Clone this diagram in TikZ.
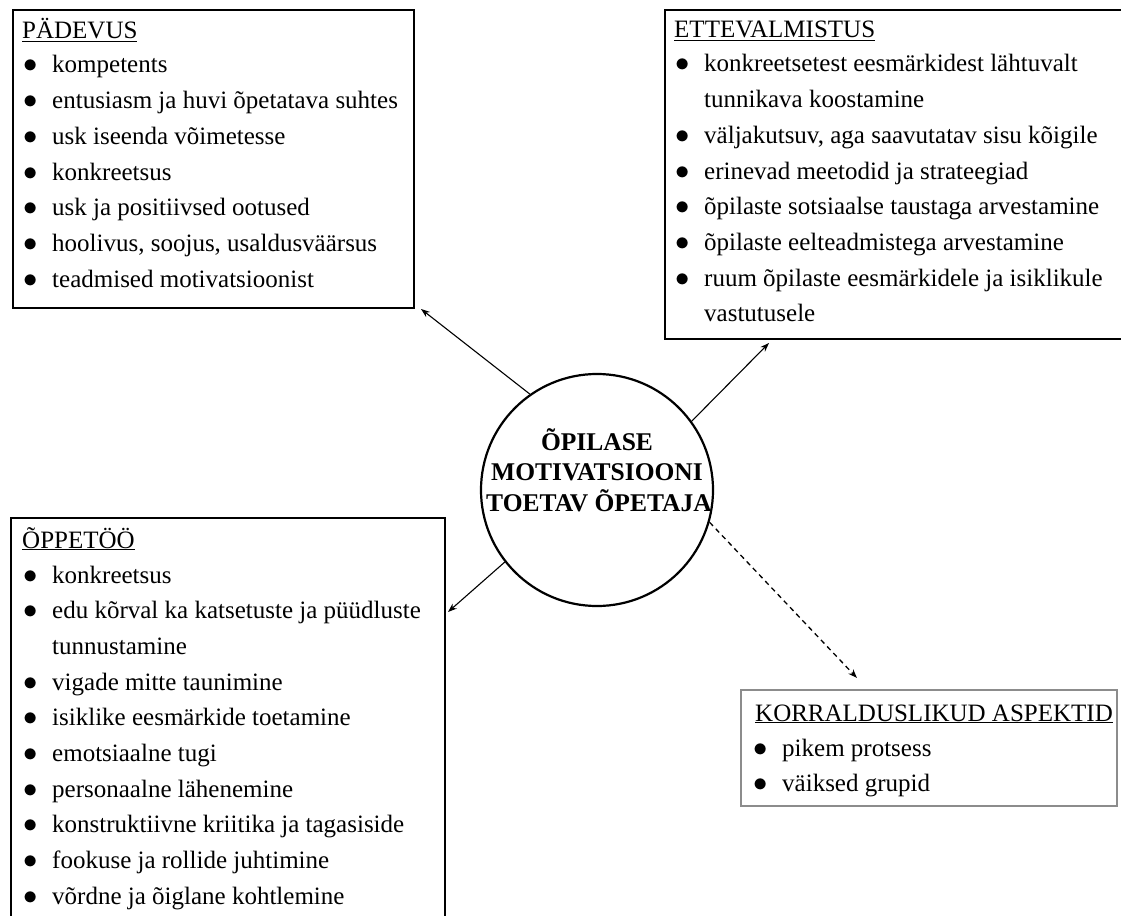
\documentclass[tikz,border=0pt]{standalone}
\usepackage{fontspec}
\setmainfont{Liberation Serif}
\usetikzlibrary{arrows.meta}
\tikzset{
  box/.style={draw=black, line width=2.4pt, rectangle, inner sep=0pt, anchor=north west},
  lbox/.style={draw=black!45, line width=1.5pt, rectangle, inner sep=0pt, anchor=north west},
  txt/.style={anchor=base west, inner sep=0pt, font=\fontsize{25}{30}\selectfont},
  ctxt/.style={anchor=base, inner sep=0pt, font=\fontsize{25.5}{30}\selectfont\bfseries},
  arr/.style={-{Stealth[length=9pt,width=6.5pt]}, line width=1.1pt},
  darr/.style={arr, dash pattern=on 5pt off 4pt, line width=1.3pt},
}
\newcommand{\bul}{\llap{\makebox[12.5pt]{\scalebox{1.15}{$\bullet$}}\hspace{15.75pt}}}
\begin{document}
\begin{tikzpicture}[x=1pt,y=-1pt]
\useasboundingbox (0,0) rectangle (1121,915);
\fill[white] (0,0) rectangle (1121,915);

% boxes
\node[box, minimum width=401pt, minimum height=298pt] (pad) at (12,9) {};
\node[box, minimum width=461pt, minimum height=329pt] (ette) at (664,9) {};
\node[box, minimum width=434pt, minimum height=420pt] (opp) at (10,517) {};
\node[lbox, minimum width=376pt, minimum height=116pt] (kor) at (740,689) {};
\node[circle, draw=black, line width=2.2pt, minimum size=232pt, inner sep=0pt] (c) at (597,490) {};

% centre text
\node[ctxt] (c1) at (597,450) {ÕPILASE};
\node[ctxt] (c2) at (597,480.5) {MOTIVATSIOONI};
\node[ctxt] (c3) at (599,511) {TOETAV ÕPETAJA};

% PÄDEVUS
\node[txt] (p0) at (22,39) {\underline{PÄDEVUS}};
\node[txt] (p1) at (52,73) {\bul kompetents};
\node[txt] (p2) at (52,108.7) {\bul entusiasm ja huvi õpetatava suhtes};
\node[txt] (p3) at (52,144.4) {\bul usk iseenda võimetesse};
\node[txt] (p4) at (52,180.1) {\bul konkreetsus};
\node[txt] (p5) at (52,215.8) {\bul usk ja positiivsed ootused};
\node[txt] (p6) at (52,251.5) {\bul hoolivus, soojus, usaldusväärsus};
\node[txt] (p7) at (52,287.2) {\bul teadmised motivatsioonist};

% ETTEVALMISTUS
\node[txt] (e0) at (674,38) {\underline{ETTEVALMISTUS}};
\node[txt] (e1) at (704,72) {\bul konkreetsetest eesmärkidest lähtuvalt};
\node[txt] (e2) at (704,107.7) {tunnikava koostamine};
\node[txt] (e3) at (704,143.4) {\bul väljakutsuv, aga saavutatav sisu kõigile};
\node[txt] (e4) at (704,179.1) {\bul erinevad meetodid ja strateegiad};
\node[txt] (e5) at (704,214.8) {\bul õpilaste sotsiaalse taustaga arvestamine};
\node[txt] (e6) at (704,250.5) {\bul õpilaste eelteadmistega arvestamine};
\node[txt] (e7) at (704,286.2) {\bul ruum õpilaste eesmärkidele ja isiklikule};
\node[txt] (e8) at (704,321.9) {vastutusele};

% ÕPPETÖÖ
\node[txt] (o0) at (22,548) {\underline{ÕPPETÖÖ}};
\node[txt] (o1) at (52,583) {\bul konkreetsus};
\node[txt] (o2) at (52,618.7) {\bul edu kõrval ka katsetuste ja püüdluste};
\node[txt] (o3) at (52,654.4) {tunnustamine};
\node[txt] (o4) at (52,690.1) {\bul vigade mitte taunimine};
\node[txt] (o5) at (52,725.8) {\bul isiklike eesmärkide toetamine};
\node[txt] (o6) at (52,761.5) {\bul emotsiaalne tugi};
\node[txt] (o7) at (52,797.2) {\bul personaalne lähenemine};
\node[txt] (o8) at (52,832.9) {\bul konstruktiivne kriitika ja tagasiside};
\node[txt] (o9) at (52,868.6) {\bul fookuse ja rollide juhtimine};
\node[txt] (o10) at (52,904.3) {\bul võrdne ja õiglane kohtlemine};

% KORRALDUSLIKUD ASPEKTID
\node[txt] (k0) at (755,721) {\underline{KORRALDUSLIKUD ASPEKTID}};
\node[txt] (k1) at (782,756) {\bul pikem protsess};
\node[txt] (k2) at (782,791) {\bul väiksed grupid};

% arrows
\coordinate (tP) at (421,309);
\coordinate (tE) at (769,343);
\coordinate (tO) at (448,612);
\coordinate (tK) at (857,678);
\draw[arr] (c.125) -- (tP);
\draw[arr] (c.36) -- (tE);
\draw[arr] (c.218) -- (tO);
\draw[darr] (c.344) -- (tK);
\end{tikzpicture}
\end{document}
